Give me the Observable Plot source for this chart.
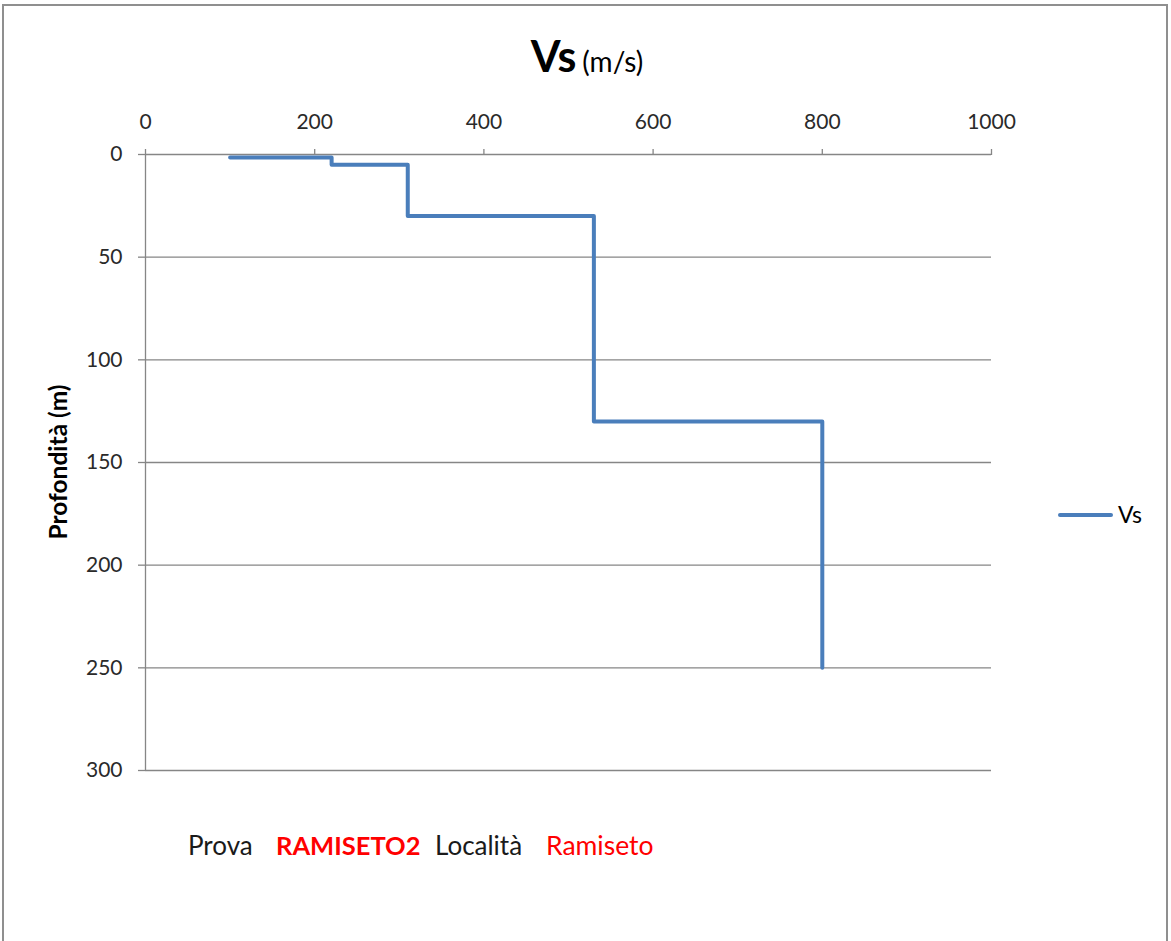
<!DOCTYPE html>
<html>
<head>
<meta charset="utf-8">
<script src="https://cdn.jsdelivr.net/npm/d3@7"></script>
<script src="https://cdn.jsdelivr.net/npm/@observablehq/plot@0.6"></script>
<style>
  html, body { margin: 0; padding: 0; background: #fff; }
  #wrap { position: relative; width: 1171px; height: 941px; overflow: hidden; font-family: Lato, "Open Sans", sans-serif; }
  #frame { position: absolute; left: 2px; top: 4px; width: 1166px; height: 1000px; border: 2px solid #8f8f8f; box-sizing: border-box; }
  #chart { position: absolute; left: 0; top: 0; }
  #overlay { position: absolute; left: 0; top: 0; pointer-events: none; }
  #chart g[aria-label="x-axis tick"], #chart g[aria-label="y-axis tick"] { stroke: #868686; }
</style>
</head>
<body>
<div id="wrap">
  <div id="frame"></div>
  <div id="chart"></div>
  <svg id="overlay" width="1171" height="941" font-family="Lato, 'Open Sans', sans-serif">
    <text x="587" y="72" text-anchor="middle" fill="#000"><tspan font-size="43" font-weight="bold">Vs</tspan><tspan font-size="28" dx="6">(m/s)</tspan></text>
    <text transform="translate(67,462) rotate(-90)" text-anchor="middle" font-size="24.5" font-weight="bold" fill="#000">Profondità (m)</text>
    <line x1="1060" x2="1111" y1="515" y2="515" stroke="#4a7ebb" stroke-width="4" stroke-linecap="round"></line>
    <text x="1118" y="523" font-size="23" fill="#000">Vs</text>
    <text x="188" y="855" font-size="26" fill="#1a1a1a">Prova</text>
    <text x="276" y="855" font-size="25.5" font-weight="bold" fill="#ff0000">RAMISETO2</text>
    <text x="435" y="855" font-size="26" fill="#1a1a1a">Località</text>
    <text x="546" y="855" font-size="26.5" fill="#ff0000">Ramiseto</text>
  </svg>
</div>
<script>
// Data
const velocity = [100, 220, 310, 530, 800];   // Vs (m/s)
const depth    = [1.5, 5, 30, 130, 250];      // Profondità (m)
const xTicks = [0, 200, 400, 600, 800, 1000];
const yTicks = [0, 50, 100, 150, 200, 250, 300];

const profile = velocity.map((v, i) => ({vs: v, depth: depth[i]}));

const chart = Plot.plot({
  width: 1171,
  height: 941,
  marginTop: 154,
  marginLeft: 145,
  marginRight: 180,
  marginBottom: 171,
  x: {domain: [0, 1000]},
  y: {domain: [0, 300], reverse: true},
  style: {fontFamily: "Lato, 'Open Sans', sans-serif", fontSize: "21px", color: "#2a2a2a", background: "transparent", overflow: "visible"},
  marks: [
    Plot.gridY(yTicks.slice(1), {stroke: "#868686", strokeOpacity: 1, strokeWidth: 1.3}),
    Plot.ruleY([0], {stroke: "#868686", strokeWidth: 1.3}),
    Plot.ruleX([0], {stroke: "#868686", strokeWidth: 1.3}),
    Plot.axisX({anchor: "top", ticks: xTicks, tickFormat: d3.format("d"), tickSize: 6, tickPadding: 20, label: null, strokeWidth: 1.3}),
    Plot.axisY({anchor: "left", ticks: yTicks, tickFormat: d3.format("d"), tickSize: 7, tickPadding: 16, label: null, strokeWidth: 1.3}),
    Plot.line(profile, {x: "vs", y: "depth", curve: "step-after", stroke: "#4a7ebb", strokeWidth: 4})
  ]
});
document.getElementById("chart").appendChild(chart);
</script>
</body>
</html>
